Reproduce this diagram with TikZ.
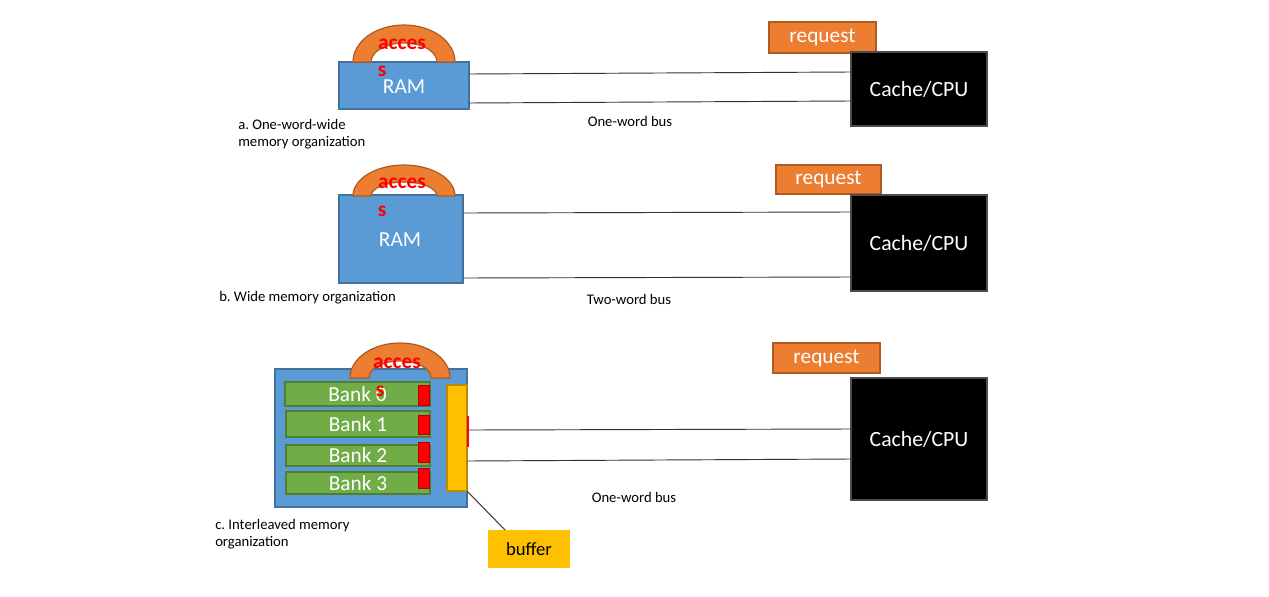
\documentclass[tikz,border=0pt]{standalone}
\usepackage{fontspec}
\setmainfont{Carlito}
\frenchspacing
\definecolor{ramblue}{HTML}{5B9BD5}
\definecolor{ramedge}{HTML}{41719C}
\definecolor{acorange}{HTML}{ED7D31}
\definecolor{acedge}{HTML}{AE5A21}
\definecolor{bankgreen}{HTML}{70AD47}
\definecolor{bankedge}{HTML}{507E32}
\definecolor{bufyellow}{HTML}{FFC000}
\definecolor{bufedge}{HTML}{BC8C00}
\newcommand\pbox[7]{\node[#6, inner sep=0pt, outer sep=0pt, minimum width={(#4-#2)*0.75pt}, minimum height={(#5-#3)*0.75pt}] (#1) at ({(#2+#4)/2},{(#3+#5)/2}) {#7};}
\newcommand\accarc[6]{\draw[arcsty] ({#1-#3},#2) arc[start angle=180, end angle=360, x radius=#3, y radius=#4] -- ({#1+#5},#2) arc[start angle=0, end angle=-180, x radius=#5, y radius=#6] -- cycle;}
\begin{document}
\begin{tikzpicture}[x=0.75pt,y=-0.75pt,
  ramsty/.style={draw=ramedge, fill=ramblue, line width=1.2pt, text=white, font=\fontsize{16}{19}\selectfont},
  arcsty/.style={draw=acedge, fill=acorange, line width=0.9pt},
  accsty/.style={text=red, font=\fontsize{16}{19}\selectfont\bfseries, inner sep=0pt},
  reqsty/.style={draw=acedge, fill=acorange, line width=1pt, text=white, font=\fontsize{16}{19}\selectfont},
  cpusty/.style={draw=black!70, fill=black, line width=0.8pt, text=white, font=\fontsize{16.3}{19}\selectfont},
  banksty/.style={draw=bankedge, fill=bankgreen, line width=1.2pt, text=white, font=\fontsize{16}{19}\selectfont},
  redsty/.style={draw=red!70!black, fill=red, line width=0.4pt},
  bufsty/.style={draw=bufedge, fill=bufyellow, line width=1pt},
  small/.style={font=\fontsize{11}{12.75}\selectfont, inner sep=0pt, align=left},
  bus/.style={draw=black!80, line width=0.7pt}
]
\useasboundingbox (0,0) rectangle (1269,596);

% ---------- panel a ----------
\pbox{rama}{339}{62}{469}{109}{ramsty}{}
\node[text=white, font=\fontsize{16}{19}\selectfont] (ramat) at (404,87) {RAM};
\accarc{404}{62}{51}{37}{33}{19}
\node[accsty] (acca) at (402,44) {acces};
\node[accsty] (acca2) at (382,71) {s};
\pbox{reqa}{769}{22}{876}{53}{reqsty}{request}
\pbox{cpua}{851}{52}{987}{126}{cpusty}{Cache/CPU}
\coordinate (a1s) at (469,74); \coordinate (a1e) at (851,72);
\coordinate (a2s) at (469,103); \coordinate (a2e) at (851,101);
\draw[bus] (a1s) -- (a1e);
\draw[bus] (a2s) -- (a2e);
\node[small] (busa) at (630,121) {One-word bus};
\node[small, anchor=north west] (laba) at (238,119) {a. One-word-wide\\memory organization};

% ---------- panel b ----------
\pbox{ramb}{339}{195}{463}{283}{ramsty}{}
\node[text=white, font=\fontsize{16}{19}\selectfont] (rambt) at (400,240) {RAM};
\accarc{404}{196}{51}{31}{33}{14}
\node[accsty] (accb) at (402,183) {acces};
\node[accsty] (accb2) at (382,211) {s};
\pbox{reqb}{776}{165}{881}{194}{reqsty}{request}
\pbox{cpub}{851}{195}{987}{291}{cpusty}{Cache/CPU}
\coordinate (b1s) at (463,213); \coordinate (b1e) at (851,212);
\coordinate (b2s) at (463,278); \coordinate (b2e) at (851,277);
\draw[bus] (b1s) -- (b1e);
\draw[bus] (b2s) -- (b2e);
\node[small] (busb) at (629,299) {Two-word bus};
\node[small, anchor=west] (labb) at (219,298) {b. Wide memory organization};

% ---------- panel c ----------
\pbox{ramc}{275}{369}{467}{507}{ramsty}{}
\accarc{400}{378}{50}{35}{31}{17}
\pbox{bank0}{285}{382}{430}{406}{banksty}{Bank 0}
\pbox{bank1}{286}{411}{430}{437}{banksty}{Bank 1}
\pbox{bank2}{286}{445}{430}{466}{banksty}{Bank 2}
\pbox{bank3}{286}{472}{430}{494}{banksty}{Bank 3}
\pbox{red0}{418}{385}{429}{405}{redsty}{}
\pbox{red1}{418}{415}{429}{434}{redsty}{}
\pbox{red2}{418}{442}{429}{462}{redsty}{}
\pbox{red3}{418}{468}{429}{488}{redsty}{}
\pbox{buf}{447}{385}{467}{491}{bufsty}{}
\pbox{redm}{467}{416}{469}{447}{redsty, draw=none}{}
\node[accsty] (accc) at (397,363) {acces};
\node[accsty] (accc2) at (380,391) {s};
\pbox{reqc}{773}{343}{880}{373}{reqsty}{request}
\pbox{cpuc}{851}{378}{987}{500}{cpusty}{Cache/CPU}
\coordinate (c1s) at (469,430); \coordinate (c1e) at (851,429);
\coordinate (c2s) at (467,461); \coordinate (c2e) at (851,459);
\draw[bus] (c1s) -- (c1e);
\draw[bus] (c2s) -- (c2e);
\node[small] (busc) at (634,497) {One-word bus};
\node[small, anchor=north west] (labc) at (215,519) {c. Interleaved memory\\organization};
\pbox{bufbox}{488}{530}{570}{568}{fill=bufyellow, font=\fontsize{14}{17}\selectfont}{buffer}
\coordinate (bufend) at (505,530);
\draw[draw=black!75, line width=0.8pt] (buf.south east) -- (bufend);
\end{tikzpicture}
\end{document}
